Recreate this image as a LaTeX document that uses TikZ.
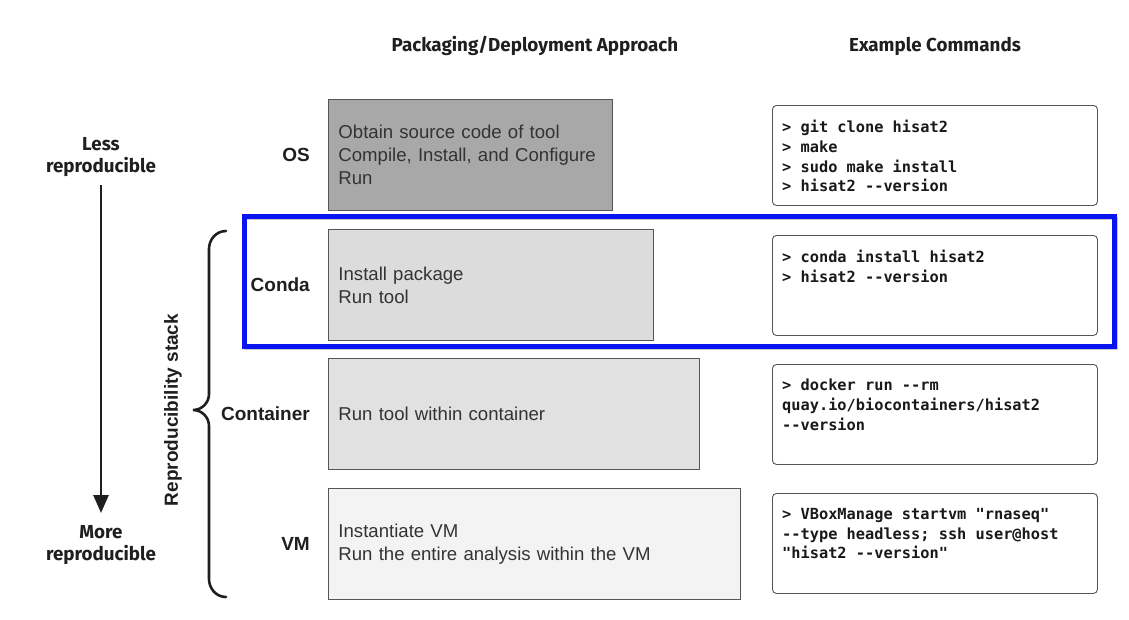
\documentclass[tikz,border=0pt]{standalone}
\usepackage{fontspec}
\setmainfont{Liberation Sans}
\newfontfamily\hdfont{Fira Sans}
\newfontfamily\cmdfont{DejaVu Sans Mono}
\usetikzlibrary{arrows.meta,calc}
\definecolor{boxline}{HTML}{555555}
\definecolor{txtgray}{HTML}{333333}
\definecolor{osfill}{HTML}{A8A8A8}
\definecolor{condafill}{HTML}{DCDCDC}
\definecolor{contfill}{HTML}{E1E1E1}
\definecolor{vmfill}{HTML}{F3F3F3}
\definecolor{hlblue}{HTML}{0A14F0}
\tikzset{
  approach/.style={draw=boxline, line width=0.9pt, minimum height=111pt, inner xsep=10pt, inner ysep=0pt,
    align=left, anchor=north west, text=txtgray,
    font=\fontsize{18.6}{23}\selectfont},
  cmdbox/.style={draw=boxline, line width=0.9pt, fill=white, rounded corners=4pt,
    minimum width=325pt, minimum height=100pt, anchor=north west},
  cmdtext/.style={anchor=north west, inner sep=0pt, align=left, text=black!90,
    font=\cmdfont\bfseries\fontsize{15.3}{19.7}\selectfont},
  rowlabel/.style={anchor=east, inner sep=0pt, text=black!88, font=\bfseries\fontsize{19}{23}\selectfont},
  header/.style={inner sep=0pt, text=black!88, font=\hdfont\bfseries\fontsize{18.8}{22}\selectfont},
  sidetext/.style={inner sep=0pt, align=center, text=black!88, font=\hdfont\bfseries\fontsize{18.8}{22}\selectfont},
}
\begin{document}
\begin{tikzpicture}[x=1pt,y=-1pt]
\useasboundingbox[fill=white] (0,0) rectangle (1129,619);
% headers
\node[header] (h1) at (535,46) {Packaging/Deployment Approach};
\node[header] (h2) at (935,46) {Example Commands};
% approach boxes
\node[approach, fill=osfill, text width=264pt] (os) at (328,99) {Obtain source code of tool\\Compile, Install, and Configure\\Run};
\node[approach, fill=condafill, text width=305pt] (conda) at (328,229) {Install package\\Run tool};
\node[approach, fill=contfill, text width=351pt] (cont) at (328,358) {Run tool within container};
\node[approach, fill=vmfill, text width=392pt] (vm) at (328,488) {Instantiate VM\\Run the entire analysis within the VM};
% row labels
\node[rowlabel] (los) at (310,155) {OS};
\node[rowlabel] (lconda) at (310,285) {Conda};
\node[rowlabel] (lcont) at (310,414) {Container};
\node[rowlabel] (lvm) at (310,544) {VM};
% command boxes
\node[cmdbox] (c1) at (772,105) {};
\node[cmdbox] (c2) at (772,235) {};
\node[cmdbox] (c3) at (772,364) {};
\node[cmdbox] (c4) at (772,493) {};
\node[cmdtext] (t1) at ($(c1.north west)+(10,15)$) {> git clone hisat2\\> make\\> sudo make install\\> hisat2 --version};
\node[cmdtext] (t2) at ($(c2.north west)+(10,15)$) {> conda install hisat2\\> hisat2 --version};
\node[cmdtext] (t3) at ($(c3.north west)+(10,15)$) {> docker run --rm\\quay.io/biocontainers/hisat2\\--version};
\node[cmdtext] (t4) at ($(c4.north west)+(10,15)$) {> VBoxManage startvm "rnaseq"\\--type headless; ssh user@host\\"hisat2 --version"};
% highlight rectangle
\draw[line width=3pt, black!35, opacity=0.6] (245.5,218.5) rectangle (1116,348.5);
\draw[line width=4.5pt, hlblue] (244.5,216.5) rectangle (1114.5,346.5);
% left arrow
\node[sidetext] (less) at (101,157) {Less\\reproducible};
\node[sidetext] (more) at (101,545) {More\\reproducible};
\coordinate (astart) at (101,185);
\coordinate (aend) at (101,513);
\draw[line width=2.6pt, black!88, -{Triangle[length=18pt,width=15pt]}] (astart) -- (aend);
% brace
\draw[line width=2.6pt, black!88, line cap=round]
  (226,231) to[out=180,in=90] (209,249) -- (209,394)
  to[out=-90,in=0] (193,410) to[out=0,in=90] (209,426)
  -- (209,579) to[out=-90,in=180] (226,597);
\node[rowlabel, anchor=center, rotate=90] (stack) at (173,410) {Reproducibility stack};
\end{tikzpicture}
\end{document}
